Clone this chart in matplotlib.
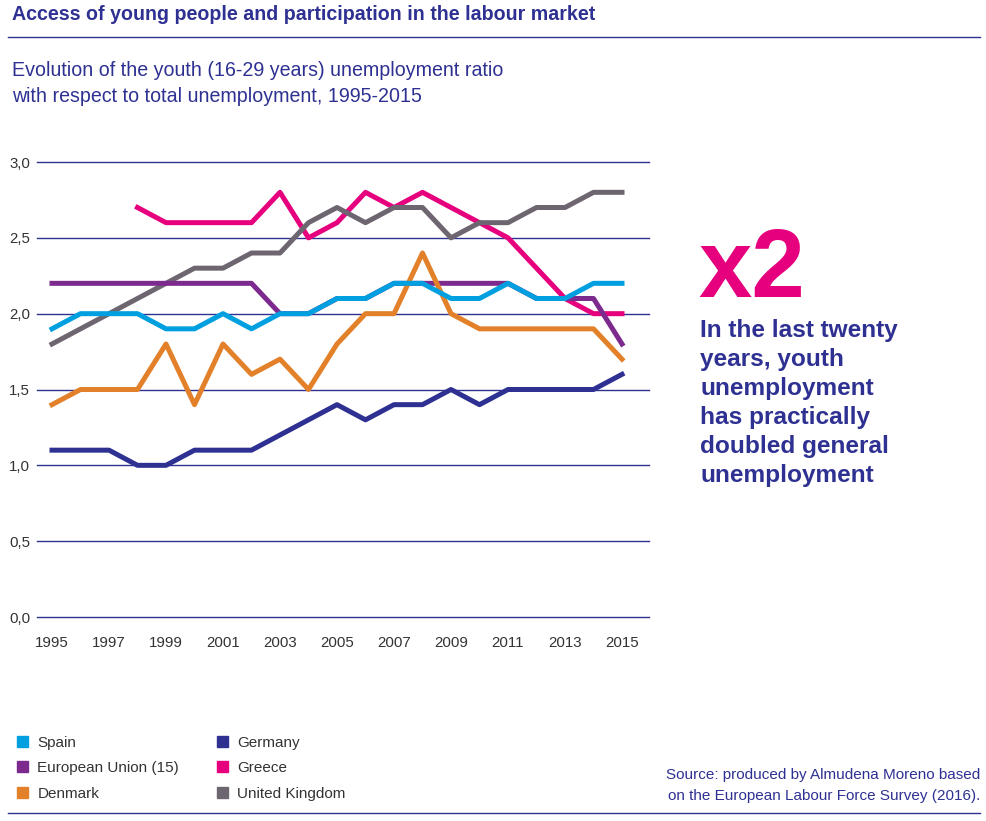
import matplotlib
matplotlib.use("Agg")
import matplotlib.pyplot as plt
from matplotlib.patches import Patch
from matplotlib.lines import Line2D

plt.rcParams['font.family'] = ['Liberation Sans', 'DejaVu Sans']

years = list(range(1995, 2016))
spain = [1.9, 2.0, 2.0, 2.0, 1.9, 1.9, 2.0, 1.9, 2.0, 2.0, 2.1, 2.1, 2.2, 2.2, 2.1, 2.1, 2.2, 2.1, 2.1, 2.2, 2.2]
eu15 = [2.2, 2.2, 2.2, 2.2, 2.2, 2.2, 2.2, 2.2, 2.0, 2.0, 2.1, 2.1, 2.2, 2.2, 2.2, 2.2, 2.2, 2.1, 2.1, 2.1, 1.8]
denmark = [1.4, 1.5, 1.5, 1.5, 1.8, 1.4, 1.8, 1.6, 1.7, 1.5, 1.8, 2.0, 2.0, 2.4, 2.0, 1.9, 1.9, 1.9, 1.9, 1.9, 1.7]
germany = [1.1, 1.1, 1.1, 1.0, 1.0, 1.1, 1.1, 1.1, 1.2, 1.3, 1.4, 1.3, 1.4, 1.4, 1.5, 1.4, 1.5, 1.5, 1.5, 1.5, 1.6]
greece_years = list(range(1998, 2016))
greece = [2.7, 2.6, 2.6, 2.6, 2.6, 2.8, 2.5, 2.6, 2.8, 2.7, 2.8, 2.7, 2.6, 2.5, 2.3, 2.1, 2.0, 2.0]
uk = [1.8, 1.9, 2.0, 2.1, 2.2, 2.3, 2.3, 2.4, 2.4, 2.6, 2.7, 2.6, 2.7, 2.7, 2.5, 2.6, 2.6, 2.7, 2.7, 2.8, 2.8]

yticks = [0.0, 0.5, 1.0, 1.5, 2.0, 2.5, 3.0]
ytick_labels = ['0,0', '0,5', '1,0', '1,5', '2,0', '2,5', '3,0']
xticks = list(range(1995, 2016, 2))

navy = '#2e3192'
c_spain = '#00a0e0'
c_eu = '#7d2a8f'
c_den = '#e3812b'
c_ger = '#2e3192'
c_gre = '#e6007e'
c_uk = '#6d6670'

W, H = 987, 821
fig = plt.figure(figsize=(W / 100, H / 100), dpi=100)

# header
fig.text(12 / W, 1 - 15 / H, 'Access of young people and participation in the labour market',
         fontsize=14.1, fontweight='bold', color=navy, va='center', ha='left')
fig.add_artist(Line2D([8 / W, 980 / W], [1 - 37 / H, 1 - 37 / H], color=navy, lw=1))
fig.text(12 / W, 1 - 71 / H, 'Evolution of the youth (16-29 years) unemployment ratio',
         fontsize=14.1, color=navy, va='center', ha='left')
fig.text(12 / W, 1 - 97 / H, 'with respect to total unemployment, 1995-2015',
         fontsize=14.1, color=navy, va='center', ha='left')

# chart
ax = fig.add_axes([37 / W, 1 - 617 / H, (649 - 37) / W, (617 - 162) / H])
ax.set_xlim(1995 - 15 / 28.5, 2015 + 27 / 28.5)
ax.set_ylim(0, 3.0)
for s in ax.spines.values():
    s.set_visible(False)
for v in yticks:
    ax.axhline(v, color=navy, lw=1, zorder=1, clip_on=False)

lw = 3.6
ax.plot(greece_years, greece, color=c_gre, lw=lw, zorder=2)
ax.plot(years, uk, color=c_uk, lw=lw, zorder=2)
ax.plot(years, germany, color=c_ger, lw=lw, zorder=2)
ax.plot(years, eu15, color=c_eu, lw=lw, zorder=3)
ax.plot(years, denmark, color=c_den, lw=lw, zorder=3)
ax.plot(years, spain, color=c_spain, lw=lw, zorder=4)

ax.set_yticks(yticks)
ax.set_yticklabels(ytick_labels)
ax.set_xticks(xticks)
ax.set_xticklabels([str(x) for x in xticks])
ax.tick_params(axis='both', length=0, labelsize=10.8, labelcolor='#333333')
ax.tick_params(axis='y', pad=5)
ax.tick_params(axis='x', pad=14)

# callout
fig.text(698 / W, 1 - 297 / H, 'x2', fontsize=69, fontweight='bold', color=c_gre,
         ha='left', va='baseline')
fig.text(700 / W, 1 - 319 / H,
         'In the last twenty\nyears, youth\nunemployment\nhas practically\ndoubled general\nunemployment',
         fontsize=17.6, fontweight='bold', color=navy, ha='left', va='top', linespacing=1.33)

# legend
handles = [Patch(color=c) for c in [c_spain, c_eu, c_den, c_ger, c_gre, c_uk]]
labels = ['Spain', 'European Union (15)', 'Denmark', 'Germany', 'Greece', 'United Kingdom']
fig.legend(handles, labels, ncol=2, loc='upper left', bbox_to_anchor=(3 / W, 1 - 722 / H),
           frameon=False, fontsize=11, handlelength=0.75, handleheight=0.75,
           handletextpad=0.6, columnspacing=2.45, labelspacing=0.75, labelcolor='#333333')

# source
fig.text(980 / W, 1 - 775 / H, 'Source: produced by Almudena Moreno based',
         fontsize=10.95, color=navy, ha='right', va='center')
fig.text(980 / W, 1 - 796 / H, 'on the European Labour Force Survey (2016).',
         fontsize=10.95, color=navy, ha='right', va='center')
fig.add_artist(Line2D([8 / W, 980 / W], [1 - 813 / H, 1 - 813 / H], color=navy, lw=1))

fig.savefig('out.png', dpi=100)
